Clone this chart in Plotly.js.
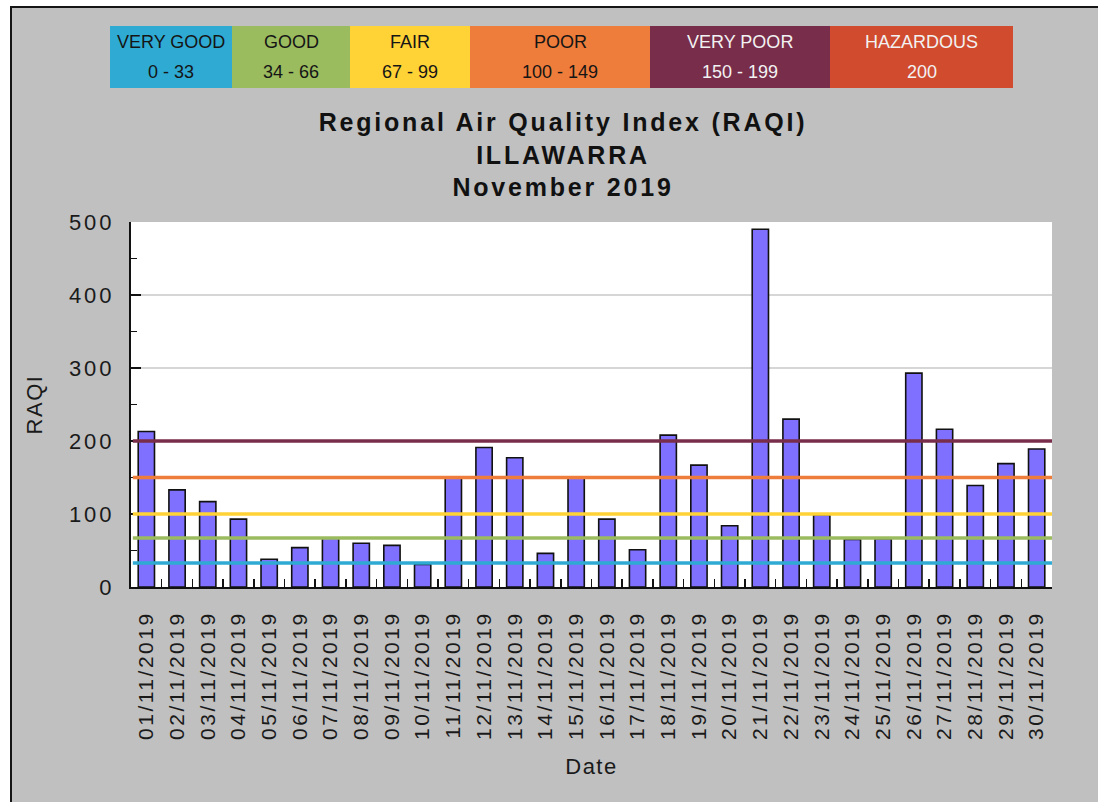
<!DOCTYPE html>
<html>
<head>
<meta charset="utf-8">
<script src="https://cdn.plot.ly/plotly-3.0.1.min.js"></script>
<style>
  html, body { margin: 0; padding: 0; background: #ffffff; }
  #wrap { position: absolute; left: 10px; top: 6px; width: 1086px; height: 794px;
          border-left: 2px solid #151515; border-top: 2px solid #151515; background: #c0c0c0; }
  #chart { width: 1086px; height: 794px; }
  .xtick text { letter-spacing: 2.5px; }
  .ytick text { letter-spacing: 3px; }
  .gtitle { letter-spacing: 2.8px; }
  .xtitle, .ytitle { letter-spacing: 1.5px; }
</style>
</head>
<body>
<div id="wrap"><div id="chart"></div></div>
<script>
// ---- data ----
const dates = ["01/11/2019","02/11/2019","03/11/2019","04/11/2019","05/11/2019","06/11/2019",
  "07/11/2019","08/11/2019","09/11/2019","10/11/2019","11/11/2019","12/11/2019","13/11/2019",
  "14/11/2019","15/11/2019","16/11/2019","17/11/2019","18/11/2019","19/11/2019","20/11/2019",
  "21/11/2019","22/11/2019","23/11/2019","24/11/2019","25/11/2019","26/11/2019","27/11/2019",
  "28/11/2019","29/11/2019","30/11/2019"];
const raqi = [213,133,117,93,38,54,67,60,57,31,150,191,177,46,150,93,51,208,167,84,
  490,230,99,65,66,293,216,139,169,189];

const bandNames = ["VERY GOOD","GOOD","FAIR","POOR","VERY POOR","HAZARDOUS"];
const bandRanges = ["0 - 33","34 - 66","67 - 99","100 - 149","150 - 199","200"];
const bandColors = ["#2eaad3","#9bbb5f","#ffd236","#ee7c3a","#782d4a","#d14b2f"];
const bandTextColors = ["#151515","#151515","#151515","#151515","#f2f2f2","#f2f2f2"];

const thresholdValues = [33, 67, 100, 150, 200];
const thresholdColors = ["#2eaad3","#9bbb5f","#ffd236","#ee7c3a","#782d4a"];

const yTicks = [0,100,200,300,400,500];

// ---- layout helpers (page pixel -> paper) ----
const PL = 131, PR = 1052, PT = 222, PB = 587;
const px2x = p => (p - PL) / (PR - PL);
const px2y = p => (PB - p) / (PB - PT);
const boxEdges = [110, 232, 350, 470, 650, 830, 1013];
const boxTop = 26, boxBottom = 88, row1 = 42, row2 = 72;

const FONT = '"Liberation Sans", Arial, sans-serif';

const shapes = [];
const annotations = [];
bandNames.forEach((name, i) => {
  shapes.push({type:'rect', xref:'paper', yref:'paper', layer:'above',
    x0: px2x(boxEdges[i]), x1: px2x(boxEdges[i+1]), y0: px2y(boxBottom), y1: px2y(boxTop),
    fillcolor: bandColors[i], line:{width:0}});
  const xc = px2x((boxEdges[i] + boxEdges[i+1]) / 2);
  annotations.push({xref:'paper', yref:'paper', x: xc, y: px2y(row1), text: name,
    showarrow:false, xanchor:'center', yanchor:'middle',
    font:{family:FONT, size:18, color: bandTextColors[i]}});
  annotations.push({xref:'paper', yref:'paper', x: xc, y: px2y(row2), text: bandRanges[i],
    showarrow:false, xanchor:'center', yanchor:'middle',
    font:{family:FONT, size:18, color: bandTextColors[i]}});
});
thresholdValues.forEach((v, i) => {
  shapes.push({type:'line', xref:'paper', yref:'y', layer:'above',
    x0: 0.002, x1: 1, y0: v, y1: v, line:{color: thresholdColors[i], width: 3.5}});
});

const trace = {
  type:'bar', x: dates, y: raqi, width: 0.53,
  marker:{color:'#8070ff', line:{color:'#111111', width:1.6}},
  hoverinfo:'x+y'
};

const layout = {
  width: 1086, height: 794,
  margin:{l: PL-12, r: 1098-PR, t: PT-8, b: 802-PB, autoexpand:false},
  paper_bgcolor:'#c0c0c0', plot_bgcolor:'#ffffff',
  showlegend:false,
  font:{family:FONT, color:'#1a1a1a'},
  title:{text:'<b>Regional Air Quality Index (RAQI)<br>ILLAWARRA<br>November 2019</b>',
    font:{family:FONT, size:25, color:'#111111'},
    xref:'container', yref:'container', x:0.5074, y:1-(131-8)/794,
    xanchor:'center', yanchor:'middle'},
  xaxis:{type:'category', tickangle:-90, showline:true, linecolor:'#111111', linewidth:2,
    ticks:'inside', tickson:'boundaries', ticklen:8, tickwidth:1.5, tickcolor:'#111111',
    showgrid:false, zeroline:false, automargin:false, ticklabelstandoff:14,
    tickfont:{family:FONT, size:21, color:'#1a1a1a'},
    title:{text:'Date', standoff:20, font:{family:FONT, size:22, color:'#1a1a1a'}}},
  yaxis:{range:[0,500], tickvals:yTicks, showline:true, linecolor:'#111111', linewidth:2,
    ticks:'inside', ticklen:10, tickwidth:1.5, tickcolor:'#111111',
    minor:{dtick:50, ticks:'inside', ticklen:6, tickwidth:1.5, tickcolor:'#111111', showgrid:false},
    showgrid:true, gridcolor:'#d6d6d6', gridwidth:1.5, zeroline:false, automargin:false,
    ticklabelstandoff:10,
    tickfont:{family:FONT, size:22, color:'#1a1a1a'},
    title:{text:'RAQI', standoff:20, font:{family:FONT, size:22, color:'#1a1a1a'}}},
  shapes: shapes,
  annotations: annotations,
  bargap: 0.47
};

Plotly.newPlot('chart', [trace], layout, {displayModeBar:false, staticPlot:true});
</script>
</body>
</html>
